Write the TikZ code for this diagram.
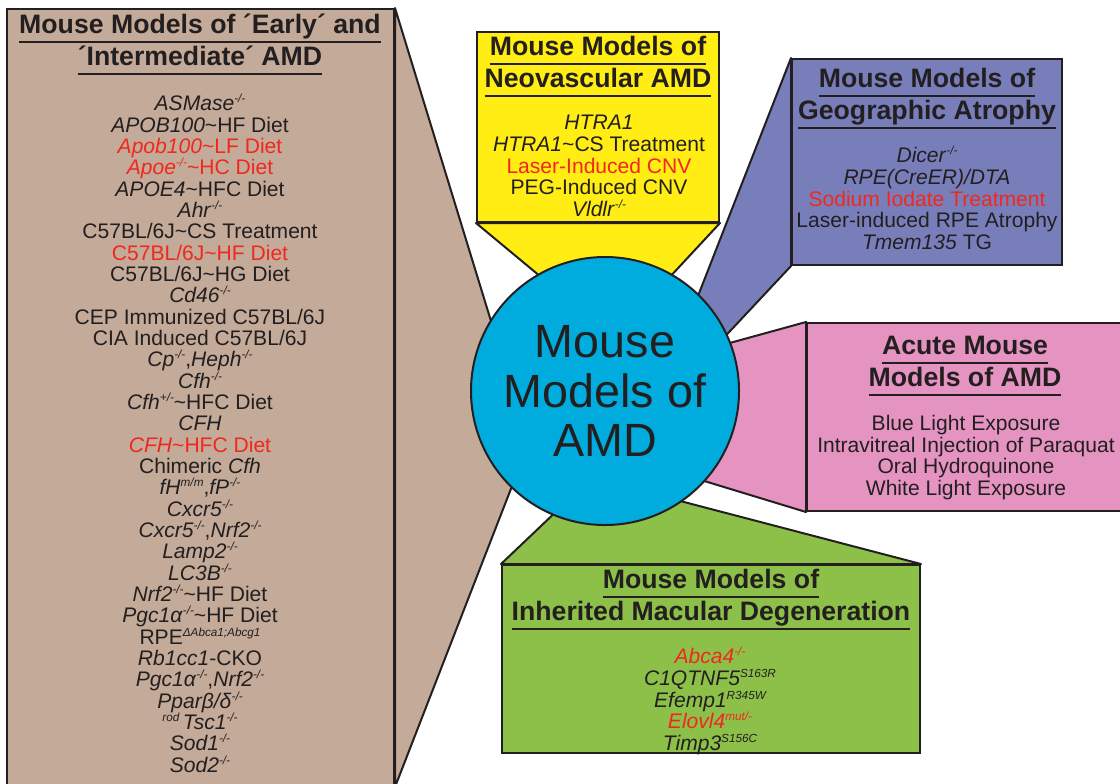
\documentclass[tikz,border=0pt]{standalone}
\usepackage{fontspec}
\setmainfont{Liberation Sans}
\usetikzlibrary{fit,backgrounds}

\definecolor{myBrown}{RGB}{196,170,152}
\definecolor{myYellow}{RGB}{255,237,20}
\definecolor{myBlue}{RGB}{120,126,186}
\definecolor{myPink}{RGB}{229,148,193}
\definecolor{myGreen}{RGB}{141,192,72}
\definecolor{myCyan}{RGB}{0,172,222}
\definecolor{myRed}{RGB}{240,40,30}
\definecolor{myInk}{RGB}{35,31,32}

\newsavebox{\hdbox}
\newcommand{\hd}[1]{\sbox{\hdbox}{#1}\leavevmode\rlap{\rule[-7.2pt]{\wd\hdbox}{1.5pt}}\usebox{\hdbox}}
\newcommand{\mysup}[1]{\raisebox{6pt}{\fontsize{8.8}{8.8}\selectfont\itshape #1}}
\newcommand{\myko}{\mysup{-/-}}
\newcommand{\myred}[1]{\textcolor{myRed}{#1}}
\newcommand{\til}{\textasciitilde}
\newcommand{\listfont}[1]{\fontsize{15.8}{#1}\selectfont\lineskiplimit=-50pt\relax}

\begin{document}
\begin{tikzpicture}[x=0.75pt,y=-0.75pt,
      box/.style={draw=myInk,line width=1.5pt,inner sep=0pt},
      wedge/.style={draw=myInk,line width=1.5pt,line join=round},
      head/.style={font=\bfseries\fontsize{20}{24}\selectfont,align=center,
         text=myInk,inner sep=0pt,anchor=north},
      list/.style={font=\listfont{16.25},
         align=center,text=myInk,inner sep=0pt,anchor=north}
      ]
    \useasboundingbox (0,0) rectangle (1120,783);

    % centre
    \node[circle,draw=myInk,line width=1.5pt,fill=myCyan,minimum size=201pt,
          inner sep=0pt,align=center,text=myInk,
          font=\fontsize{35}{37}\selectfont] (amd) at (605,391) {Mouse\\Models of\\AMD};

    % boxes
    \node[box,fill=myBrown,fit={(7,9) (394,786)}] (early) {};
    \node[box,fill=myYellow,fit={(477,32) (719,222)}] (neo) {};
    \node[box,fill=myBlue,fit={(792,59) (1062,265)}] (ga) {};
    \node[box,fill=myPink,fit={(807,323) (1124,511)}] (acute) {};
    \node[box,fill=myGreen,fit={(502,565) (920,753)}] (imd) {};

    % callouts
    \begin{scope}[on background layer]
    \foreach \s/\a/\b/\e/\col in {% box corner/angle/angle/box corner/colour
      early.north east/148/226/early.south east/myBrown,
      neo.south west/120/60/neo.south east/myYellow,
      ga.north west/46/25/ga.south west/myBlue,
      acute.north west/21/-42/acute.south west/myPink,
      imd.north east/-55/247/imd.north west/myGreen}
    \filldraw[wedge,fill=\col] (\s) -- (amd.\a) -- (amd.center) -- (amd.\b) -- (\e) -- cycle;
    \end{scope}

    % early and intermediate
    \node[head] (earlyhd) at (200,13.5) {\hd{Mouse Models of ´Early´ and}\\\hd{´Intermediate´ AMD}};
    \node[list,font=\listfont{16}] (earlyls) at (200,94) {%
      \textit{ASMase}\myko\\
      \textit{APOB100}\til HF Diet\\
      \myred{\textit{Apob100}\til LF Diet}\\
      \myred{\textit{Apoe}\myko\til HC Diet}\\
      \textit{APOE4}\til HFC Diet\\
      \textit{Ahr}\myko\\
      C57BL/6J\til CS Treatment\\
      \myred{C57BL/6J\til HF Diet}\\
      C57BL/6J\til HG Diet\\
      \textit{Cd46}\myko\\
      CEP Immunized C57BL/6J\\
      CIA Induced C57BL/6J\\
      \textit{Cp}\myko,\textit{Heph}\myko\\
      \textit{Cfh}\myko\\
      \textit{Cfh}\mysup{+/-}\til HFC Diet\\
      \textit{CFH}\\
      \myred{\textit{CFH}\til HFC Diet}\\
      Chimeric \textit{Cfh}\\
      \textit{fH}\mysup{m/m},\textit{fP}\myko\\
      \textit{Cxcr5}\myko\\
      \textit{Cxcr5}\myko,\textit{Nrf2}\myko\\
      \textit{Lamp2}\myko\\
      \textit{LC3B}\myko\\
      \textit{Nrf2}\myko\til HF Diet\\
      \textit{Pgc1α}\myko\til HF Diet\\
      RPE\mysup{ΔAbca1;Abcg1}\\
      \textit{Rb1cc1}-CKO\\
      \textit{Pgc1α}\myko,\textit{Nrf2}\myko\\
      \textit{Pparβ/δ}\myko\\
      \mysup{rod}\,\textit{Tsc1}\myko\\
      \textit{Sod1}\myko\\
      \textit{Sod2}\myko};

    % neovascular
    \node[head] (neohd) at (598,35.5) {\hd{Mouse Models of}\\\hd{Neovascular AMD}};
    \node[list] (neols) at (599,115) {\textit{HTRA1}\\
      \textit{HTRA1}\til CS Treatment\\
      \myred{Laser-Induced CNV}\\
      PEG-Induced CNV\\
      \textit{Vldlr}\myko};

    % geographic atrophy
    \node[head] (gahd) at (927,67.5) {\hd{Mouse Models of}\\\hd{Geographic Atrophy}};
    \node[list] (gals) at (927,146) {\textit{Dicer}\myko\\
      \textit{RPE(CreER)/DTA}\\
      \myred{Sodium Iodate Treatment}\\
      Laser-induced RPE Atrophy\\
      \textit{Tmem135} TG};

    % acute
    \node[head] (acutehd) at (965,335.5) {\hd{Acute Mouse}\\\hd{Models of AMD}};
    \node[list] (acutels) at (966,415) {Blue Light Exposure\\
      Intravitreal Injection of Paraquat\\
      Oral Hydroquinone\\
      White Light Exposure};

    % inherited
    \node[head] (imdhd) at (711,568.5) {\hd{Mouse Models of}\\\hd{Inherited Macular Degeneration}};
    \node[list] (imdls) at (710,647) {\myred{\textit{Abca4}\myko}\\
      \textit{C1QTNF5}\mysup{S163R}\\
      \textit{Efemp1}\mysup{R345W}\\
      \myred{\textit{Elovl4}\mysup{mut/-}}\\
      \textit{Timp3}\mysup{S156C}};
\end{tikzpicture}
\end{document}
